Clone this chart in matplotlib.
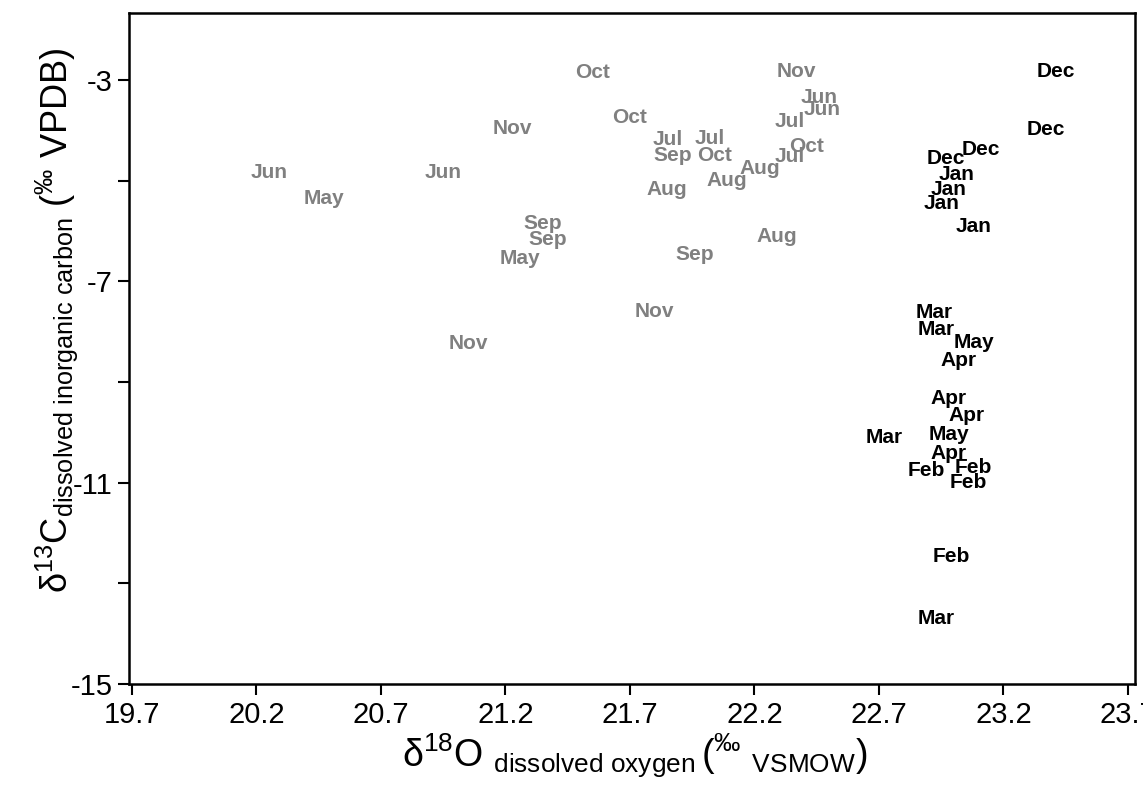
import matplotlib
matplotlib.use("Agg")
import matplotlib.pyplot as plt
import numpy as np

plt.rcParams['font.family'] = ['Liberation Sans', 'DejaVu Sans']
plt.rcParams['mathtext.fontset'] = 'custom'
plt.rcParams['mathtext.rm'] = 'Liberation Sans'
plt.rcParams['mathtext.it'] = 'Liberation Sans:italic'
plt.rcParams['mathtext.bf'] = 'Liberation Sans:bold'

# gray labels (first site)
gray_month = ['Jun', 'May', 'Jun', 'Nov', 'Sep', 'Sep', 'May', 'Nov',
              'Oct', 'Oct', 'Jul', 'Jul', 'Sep', 'Oct', 'Aug', 'Aug',
              'Aug', 'Jul', 'Oct', 'Jul', 'Jun', 'Jun', 'Nov', 'Aug',
              'Sep', 'Nov']
gray_o18 = [20.25, 20.47, 20.95, 21.23, 21.35, 21.37, 21.26, 21.05,
            21.55, 21.70, 21.85, 22.02, 21.87, 22.04, 21.85, 22.09,
            22.22, 22.34, 22.41, 22.34, 22.46, 22.47, 22.37, 22.29,
            21.96, 21.80]
gray_c13 = [-4.80, -5.32, -4.80, -3.93, -5.81, -6.13, -6.50, -8.19,
            -2.82, -3.71, -4.15, -4.12, -4.47, -4.47, -5.14, -4.95,
            -4.72, -4.49, -4.29, -3.78, -3.30, -3.54, -2.79, -6.07,
            -6.43, -7.57]

# black labels (second site)
black_month = ['Dec', 'Dec', 'Dec', 'Dec', 'Jan', 'Jan', 'Jan', 'Jan',
               'Mar', 'Mar', 'May', 'Apr', 'Apr', 'Apr', 'May', 'Mar',
               'Apr', 'Feb', 'Feb', 'Feb', 'Feb', 'Mar']
black_o18 = [23.41, 23.37, 23.11, 22.97, 23.01, 22.98, 22.95, 23.08,
             22.92, 22.93, 23.08, 23.02, 22.98, 23.05, 22.98, 22.72,
             22.98, 22.89, 23.08, 23.06, 22.99, 22.93]
black_c13 = [-2.80, -3.94, -4.35, -4.53, -4.84, -5.13, -5.42, -5.88,
             -7.59, -7.92, -8.18, -8.54, -9.28, -9.62, -10.00, -10.06,
             -10.39, -10.71, -10.66, -10.95, -12.43, -13.66]

xticks = [19.7, 20.2, 20.7, 21.2, 21.7, 22.2, 22.7, 23.2, 23.7]
yticks = [-3, -7, -11, -15]
yminor = [-5, -9, -13]

fig = plt.figure(figsize=(11.43, 7.86), dpi=100)
ax = fig.add_axes([0.1129, 0.1298, 0.8801, 0.8537])

for m, x, y in zip(gray_month, gray_o18, gray_c13):
    ax.text(x, y, m, color='#808080', fontsize=15, fontweight='bold',
            ha='center', va='center_baseline')
for m, x, y in zip(black_month, black_o18, black_c13):
    ax.text(x, y, m, color='black', fontsize=15, fontweight='bold',
            ha='center', va='center_baseline')

ax.set_xlim(19.689, 23.728)
ax.set_ylim(-15, -1.67)
ax.set_xticks(xticks)
ax.set_xticklabels([str(t) for t in xticks])
ax.set_yticks(yticks)
ax.set_yticklabels([str(t) for t in yticks])
ax.set_yticks(yminor, minor=True)
ax.tick_params(axis='both', which='both', direction='out', length=8,
               width=1.5, labelsize=21, pad=4)
for s in ax.spines.values():
    s.set_linewidth(1.8)

fig.text(635 / 1143, 1 - 756 / 786,
         r'$\mathrm{\delta^{18}O}\ _{\mathrm{dissolved\ oxygen}}\,(^{‰}\ _{\mathrm{VSMOW}})$',
         fontsize=27, ha='center', va='center')
fig.text(57 / 1143, 1 - 320 / 786,
         r'$\mathrm{\delta^{13}C}_{\mathrm{dissolved\ inorganic\ carbon}}\ (^{‰}\ \mathrm{VPDB})$',
         fontsize=26, ha='center', va='center', rotation=90)

fig.savefig('out.png', dpi=100)
